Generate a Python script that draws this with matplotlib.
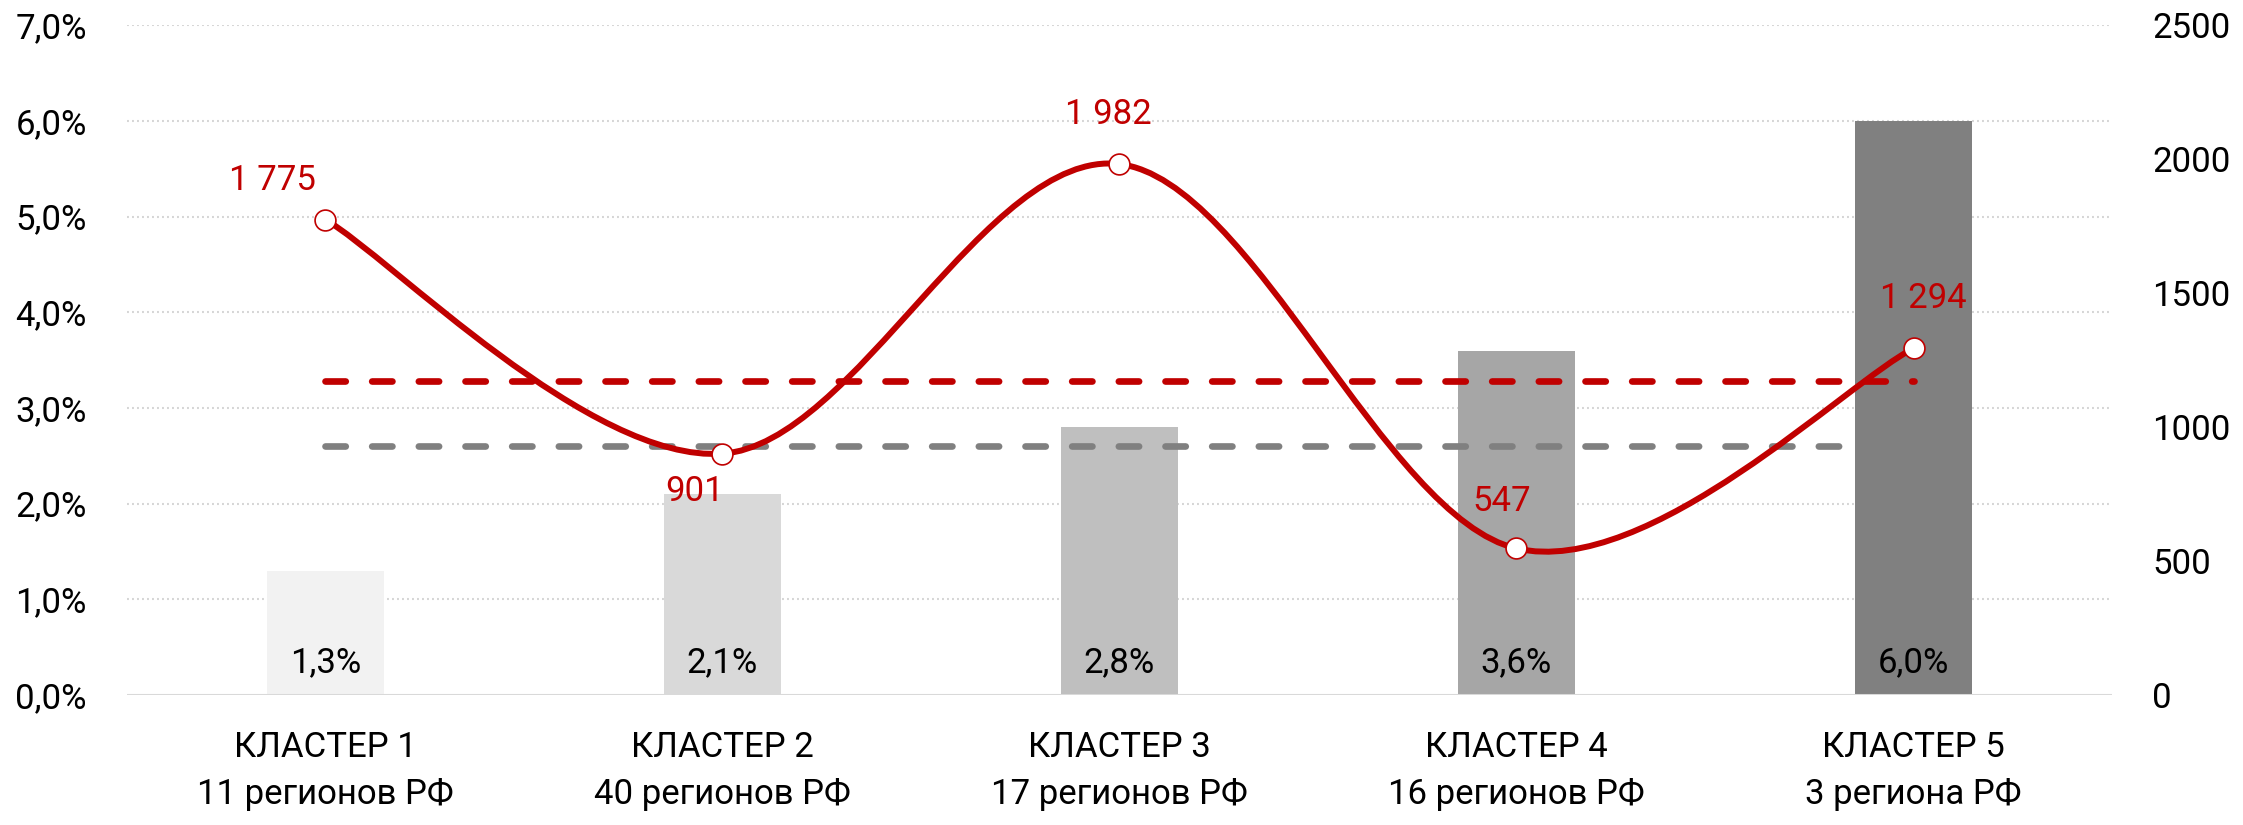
import numpy as np
import matplotlib
matplotlib.use("Agg")
import matplotlib.pyplot as plt
from matplotlib.path import Path
from matplotlib.patches import PathPatch

plt.rcParams['font.family'] = ['Roboto', 'DejaVu Sans']
plt.rcParams['lines.scale_dashes'] = False

# data
clusters = ['КЛАСТЕР 1', 'КЛАСТЕР 2', 'КЛАСТЕР 3', 'КЛАСТЕР 4', 'КЛАСТЕР 5']
regions = ['11 регионов РФ', '40 регионов РФ', '17 регионов РФ', '16 регионов РФ', '3 региона РФ']
share = [1.3, 2.1, 2.8, 3.6, 6.0]          # bars, left axis (%)
value = [1775, 901, 1982, 547, 1294]       # red line, right axis
avg_share = 2.6                            # grey dashed line (%)
avg_value = 1171                           # red dashed line

bar_colors = ['#F2F2F2', '#D9D9D9', '#BFBFBF', '#A6A6A6', '#808080']
red = '#C00000'
grey = '#808080'
fs = 25
# label offsets (points) for line data labels
lab_off = [(-38, 28), (-20, -27), (-8, 36), (-11, 34), (7, 36)]

fig = plt.figure(figsize=(22.43, 8.25), dpi=100)
ax = fig.add_axes([0.0566, 0.1576, 0.8850, 0.8117])
ax2 = ax.twinx()

x = np.arange(len(share))
ax.set_xlim(-0.5, len(share) - 0.5)
ax.set_ylim(0, 7)
ax2.set_ylim(0, 2500)

for yv in range(1, 8):
    ax.axhline(yv, color='#D6D6D6', lw=1.5, ls=(0, (1.4, 2.2)), zorder=0)
ax.axhline(0, color='#D9D9D9', lw=2.2, zorder=3)

ax.bar(x, share, width=0.295, color=bar_colors, zorder=2)
for xi, s in zip(x, share):
    ax.annotate(('%.1f%%' % s).replace('.', ','), (xi, 0), xytext=(0, 23),
                textcoords='offset points', ha='center', va='center',
                fontsize=fs, color='black', zorder=5)

dash = (0, (14.6, 19.0))
ax.plot([x[0], x[-1]], [avg_share, avg_share], color=grey, lw=4.8,
        ls=dash, dash_capstyle='round', zorder=4)
ax2.plot([x[0], x[-1]], [avg_value, avg_value], color=red, lw=4.8,
         ls=dash, dash_capstyle='round', zorder=3)

# smoothed line (Catmull-Rom Bezier like Excel)
pts = np.column_stack([x, value]).astype(float)
n = len(pts)
verts = [pts[0]]
codes = [Path.MOVETO]
for i in range(n - 1):
    p0 = pts[max(i - 1, 0)]
    p1 = pts[i]
    p2 = pts[i + 1]
    p3 = pts[min(i + 2, n - 1)]
    verts += [p1 + (p2 - p0) / 6, p2 - (p3 - p1) / 6, p2]
    codes += [Path.CURVE4] * 3
ax2.add_patch(PathPatch(Path(verts, codes), fill=False, edgecolor=red, lw=4.3,
                        capstyle='round', zorder=4))
ax2.plot(x, value, ls='none', marker='o', ms=15, mfc='white', mec=red, mew=1.2, zorder=6)

for xi, v, off in zip(x, value, lab_off):
    ax2.annotate('{:,}'.format(v).replace(',', ' '), (xi, v), xytext=off,
                 textcoords='offset points', ha='center', va='center',
                 fontsize=fs, color=red, zorder=7)

ax.set_yticks(range(0, 8))
ax.set_yticklabels(['%d,0%%' % t for t in range(0, 8)])
ax2.set_yticks(range(0, 2501, 500))
ax.set_xticks(x)
ax.set_xticklabels([c + '\n' + r for c, r in zip(clusters, regions)], linespacing=1.55)

for a in (ax, ax2):
    for sp in a.spines.values():
        sp.set_visible(False)
    a.tick_params(length=0, labelsize=fs, colors='black')
ax.tick_params(axis='y', pad=29)
ax2.tick_params(axis='y', pad=29)
ax.tick_params(axis='x', pad=26)

fig.savefig('out.png', dpi=100)
